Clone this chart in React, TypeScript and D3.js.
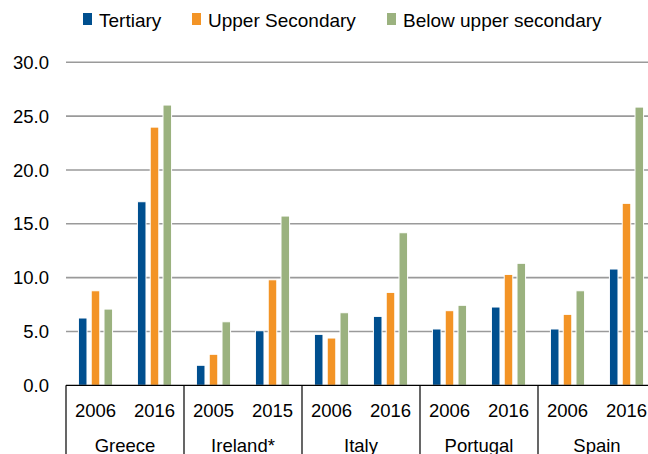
import React from "react";
import { scaleBand, scaleLinear } from "d3";

const countries = ["Greece", "Ireland*", "Italy", "Portugal", "Spain"];
const years = [
  ["2006", "2016"],
  ["2005", "2015"],
  ["2006", "2016"],
  ["2006", "2016"],
  ["2006", "2016"],
];
const seriesNames = ["Tertiary", "Upper Secondary", "Below upper secondary"];
const colors = ["#004f8f", "#f39426", "#9bb27f"];

// values in the order: Greece 1st, Greece 2nd, Ireland 1st, ...
const tertiary = [6.25, 17.05, 1.86, 5.07, 4.73, 6.4, 5.23, 7.27, 5.23, 10.8];
const upperSecondary = [8.78, 23.98, 2.88, 9.8, 4.39, 8.63, 6.93, 10.3, 6.59, 16.9];
const belowUpper = [7.08, 26.03, 5.9, 15.72, 6.74, 14.17, 7.43, 11.33, 8.78, 25.84];
const yTicks = [0, 5, 10, 15, 20, 25, 30];

const W = 648;
const H = 454;
const font = "'Liberation Sans', Arial, sans-serif";

export default function App() {
  const series = [tertiary, upperSecondary, belowUpper];
  const slots = tertiary.map((_, i) => i);

  const y = scaleLinear().domain([0, 30]).range([385.3, 62.3]);
  const xCountry = scaleBand<string>().domain(countries).range([66, 656]);
  const xSlot = scaleBand<number>().domain(slots).range([66, 656]);
  const xSeries = scaleBand<number>()
    .domain([0, 1, 2])
    .range([0, xSlot.bandwidth()])
    .paddingInner(0.33)
    .paddingOuter(0.97);

  const legendX = [83, 192, 387];

  return (
    <svg
      width={W}
      height={H}
      style={{ position: "absolute", left: 0, top: 0, background: "#fff" }}
      fontFamily={font}
    >
      {/* legend */}
      {seriesNames.map((name, i) => (
        <g key={name} transform={`translate(${legendX[i]},0)`}>
          <rect x={0} y={13} width={9} height={12} fill={colors[i]} />
          <text x={16} y={27} fontSize={19} fill="#000">
            {name}
          </text>
        </g>
      ))}

      {/* grid + y labels */}
      {yTicks.map((t) => (
        <g key={t}>
          {t > 0 && (
            <line x1={66} x2={W} y1={y(t)} y2={y(t)} stroke="#9a9a9a" strokeWidth={1.6} />
          )}
          <text x={49} y={y(t)} dy="0.36em" textAnchor="end" fontSize={18.5} fill="#000">
            {t.toFixed(1)}
          </text>
        </g>
      ))}

      {/* bars */}
      {series.map((vals, s) =>
        vals.map((v, i) => (
          <rect
            key={`${s}-${i}`}
            x={(xSlot(i) ?? 0) + (xSeries(s) ?? 0)}
            y={y(v)}
            width={xSeries.bandwidth()}
            height={y(0) - y(v)}
            fill={colors[s]}
            stroke="#fff"
            strokeWidth={1}
          />
        ))
      )}

      {/* category axis */}
      <line x1={66} x2={W} y1={y(0)} y2={y(0)} stroke="#000" strokeWidth={1.2} />
      {countries.map((c, ci) => {
        const x0 = xCountry(c) ?? 0;
        const bw = xCountry.bandwidth();
        return (
          <g key={c}>
            <line x1={x0} x2={x0} y1={y(0)} y2={H} stroke="#000" strokeWidth={1.2} />
            {years[ci].map((yr, k) => {
              const idx = ci * 2 + k;
              return (
                <text
                  key={yr + k}
                  x={(xSlot(idx) ?? 0) + xSlot.bandwidth() / 2}
                  y={417}
                  textAnchor="middle"
                  fontSize={18.5}
                  fill="#000"
                >
                  {yr}
                </text>
              );
            })}
            <text x={x0 + bw / 2} y={452} textAnchor="middle" fontSize={18.5} fill="#000">
              {c}
            </text>
          </g>
        );
      })}
    </svg>
  );
}
